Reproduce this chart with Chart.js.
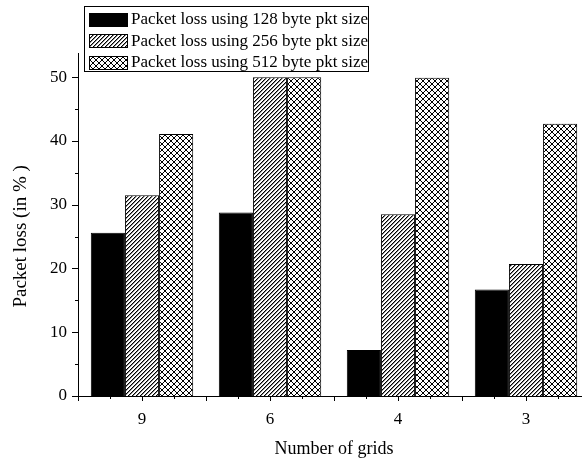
<!DOCTYPE html>
<html>
<head>
<meta charset="utf-8">
<script src="https://cdn.jsdelivr.net/npm/chart.js@4"></script>
<style>
html,body{margin:0;padding:0;background:#fff;overflow:hidden;}
#wrap{width:590px;height:461px;position:relative;}
</style>
</head>
<body>
<div id="wrap"><canvas id="c"></canvas></div>
<script>
const categories = ['9', '6', '4', '3'];
const loss128 = [25.6, 28.8, 7.2, 16.7];
const loss256 = [31.5, 50.0, 28.5, 20.7];
const loss512 = [41.1, 50.0, 49.9, 42.7];
const seriesLabels = [
  'Packet loss using 128 byte pkt size',
  'Packet loss using 256 byte pkt size',
  'Packet loss using 512 byte pkt size'
];
const yTickValues = [0, 10, 20, 30, 40, 50];

const FONT = 'Liberation Serif, Times New Roman, serif';

function makePattern(size, pixels) {
  const cv = document.createElement('canvas');
  cv.width = size; cv.height = size;
  const g = cv.getContext('2d');
  g.fillStyle = '#fff';
  g.fillRect(0, 0, size, size);
  pixels(g, size);
  return document.createElement('canvas').getContext('2d').createPattern(cv, 'repeat');
}
const diagPattern = makePattern(4, (g, p) => {
  for (let i = 0; i < p; i++) {
    g.fillStyle = '#000';
    g.fillRect(i, p - 1 - i, 1, 1);
    g.fillStyle = '#8a8a8a';
    g.fillRect(i, (p - i) % p, 1, 1);
  }
});
const crossPattern = makePattern(6, (g, p) => {
  g.fillStyle = '#000';
  for (let i = 0; i < p; i++) {
    g.fillRect(i, i, 1, 1);
    g.fillRect(i, p - 1 - i, 1, 1);
  }
});
const fills = ['#000', diagPattern, crossPattern];

const tickPlugin = {
  id: 'ticksAndLegend',
  afterDraw(chart) {
    const ctx = chart.ctx;
    const x = chart.scales.x, y = chart.scales.y;
    const area = chart.chartArea;
    ctx.save();
    ctx.strokeStyle = '#000';
    ctx.lineWidth = 1;
    ctx.beginPath();
    for (let v = 0; v <= 50; v += 5) {
      const py = Math.round(y.getPixelForValue(v)) + 0.5;
      const len = (v % 10 === 0) ? 6 : 3;
      ctx.moveTo(area.left - len, py);
      ctx.lineTo(area.left, py);
    }
    const step = x.getPixelForValue(1) - x.getPixelForValue(0);
    for (let i = 0; i < categories.length; i++) {
      for (let q = -2; q <= 1; q++) {
        const px = Math.round(x.getPixelForValue(i) + q * step / 4) + 0.5;
        const len = (q % 2 === 0) ? 5 : 3;
        ctx.moveTo(px, area.bottom);
        ctx.lineTo(px, area.bottom + len);
      }
    }
    ctx.stroke();

    // legend
    const bx = 84.5, by = 6.5, bw = 284, bh = 65;
    ctx.fillStyle = '#fff';
    ctx.fillRect(bx, by, bw, bh);
    ctx.strokeRect(bx, by, bw, bh);
    ctx.font = '17px ' + FONT;
    ctx.textBaseline = 'middle';
    ctx.textAlign = 'left';
    const rows = [19, 40.5, 62];
    chart.data.datasets.forEach((ds, i) => {
      const sy = Math.round(rows[i] - 6.5);
      ctx.fillStyle = ds.backgroundColor;
      ctx.fillRect(89, sy, 38, 13);
      ctx.strokeRect(89.5, sy + 0.5, 38, 13);
      ctx.fillStyle = '#000';
      ctx.fillText(ds.label, 131, rows[i] + 1);
    });
    ctx.restore();
  }
};

new Chart(document.getElementById('c'), {
  type: 'bar',
  data: {
    labels: categories,
    datasets: [loss128, loss256, loss512].map((d, i) => ({
      label: seriesLabels[i],
      data: d,
      backgroundColor: fills[i],
      borderColor: '#000',
      borderWidth: 1
    }))
  },
  options: {
    responsive: true,
    maintainAspectRatio: false,
    animation: false,
    layout: { padding: { top: 53, right: 0, left: 0, bottom: 0 } },
    datasets: { bar: { categoryPercentage: 0.8, barPercentage: 1.0 } },
    plugins: { legend: { display: false }, tooltip: { enabled: false } },
    scales: {
      x: {
        grid: { display: false, drawTicks: false },
        border: { display: true, color: '#000', width: 1 },
        ticks: { color: '#000', font: { family: FONT, size: 17 }, padding: 13, maxRotation: 0 },
        title: { display: true, text: 'Number of grids', color: '#000', font: { family: FONT, size: 18 }, padding: { top: 0, bottom: 1 } },
        afterFit(s) { s.height = 65; s.paddingLeft = 0; s.paddingRight = 0; }
      },
      y: {
        min: 0, max: 53.8,
        grid: { display: false, drawTicks: false },
        border: { display: true, color: '#000', width: 1 },
        ticks: { color: '#000', font: { family: FONT, size: 17 }, padding: 11, stepSize: 10 },
        afterBuildTicks(s) { s.ticks = yTickValues.map(v => ({ value: v })); },
        title: { display: true, text: 'Packet loss (in % )     ', color: '#000', font: { family: FONT, size: 19 }, padding: { top: 10, bottom: 0 } },
        afterFit(s) { s.width = 78; s.paddingTop = 0; s.paddingBottom = 0; }
      }
    }
  },
  plugins: [tickPlugin]
});
</script>
</body>
</html>
